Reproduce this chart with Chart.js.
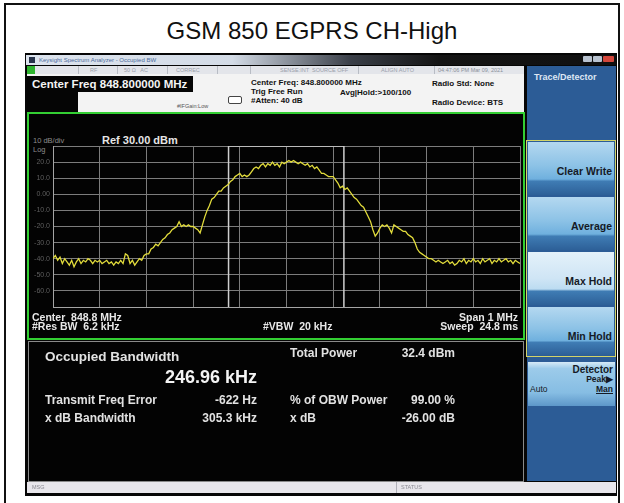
<!DOCTYPE html>
<html><head><meta charset="utf-8">
<script src="https://cdn.jsdelivr.net/npm/chart.js@4"></script>
<style>
body{margin:0;width:624px;height:503px;background:#fff;position:relative;overflow:hidden;font-family:"Liberation Sans",Arial,sans-serif;}
.a{position:absolute;}
.t{position:absolute;white-space:nowrap;line-height:1;}
.b{font-weight:bold;}
.btn{position:absolute;left:528px;width:86px;height:53px;background:linear-gradient(to bottom,#b4d8f0 0%,#8cc2e6 45%,#6fb0de 70%,#3f7cb4 74%,#2d6098 100%);}
.btn.sel{background:linear-gradient(to bottom,#e4f1fa 0%,#cfe5f5 50%,#bcdcf1 70%,#3f7cb4 74%,#2d6098 100%);}
.btn span{position:absolute;right:2px;top:24px;font-weight:bold;font-size:10.5px;color:#151a26;line-height:1;white-space:nowrap;}
</style></head><body>
<!-- report table borders -->
<div class="a" style="left:4px;top:3px;width:616px;height:2px;background:#111"></div>
<div class="a" style="left:4px;top:3px;width:2px;height:500px;background:#111"></div>
<div class="a" style="left:618px;top:3px;width:2px;height:500px;background:#111"></div>
<div class="t" style="left:0;width:624px;text-align:center;top:19px;font-size:24px;color:#111">GSM 850 EGPRS CH-High</div>

<!-- analyzer screenshot frame -->
<div class="a" style="left:25px;top:53px;width:592px;height:443px;background:#060606"></div>
<!-- window title bar -->
<div class="a" style="left:26px;top:55px;width:590px;height:10px;background:linear-gradient(to right,#dde4ee 0%,#d3dbe6 35%,#3a3f48 55%,#141414 70%,#101010 100%)"></div>
<div class="a" style="left:29px;top:57px;width:6px;height:6px;background:#27334a"></div>
<div class="t" style="left:39px;top:57px;font-size:6px;color:#4d6d9c">Keysight Spectrum Analyzer - Occupied BW</div>
<div class="a" style="left:583px;top:56px;width:9px;height:6px;background:#b9c3d0;border-radius:1px"></div>
<div class="a" style="left:593px;top:56px;width:9px;height:6px;background:#b9c3d0;border-radius:1px"></div>
<div class="a" style="left:603px;top:56px;width:11px;height:6px;background:#d4473c;border-radius:1px"></div>
<!-- status strip -->
<div class="a" style="left:27px;top:66px;width:497px;height:8px;background:#e3e5ea"></div>
<div class="a" style="left:27px;top:66px;width:8px;height:8px;background:#2fb52f"></div>
<div class="a" style="left:78px;top:66px;width:1px;height:8px;background:#b8bcc4"></div>
<div class="a" style="left:117px;top:66px;width:1px;height:8px;background:#b8bcc4"></div>
<div class="a" style="left:167px;top:66px;width:1px;height:8px;background:#b8bcc4"></div>
<div class="a" style="left:217px;top:66px;width:1px;height:8px;background:#b8bcc4"></div>
<div class="a" style="left:250px;top:66px;width:1px;height:8px;background:#b8bcc4"></div>
<div class="a" style="left:358px;top:66px;width:1px;height:8px;background:#b8bcc4"></div>
<div class="a" style="left:434px;top:66px;width:1px;height:8px;background:#b8bcc4"></div>
<div class="t" style="left:90px;top:67.5px;font-size:5.5px;color:#9aa0aa">RF</div>
<div class="t" style="left:124px;top:67.5px;font-size:5.5px;color:#9aa0aa">50 Ω&nbsp;&nbsp;&nbsp;AC</div>
<div class="t" style="left:176px;top:67.5px;font-size:5.5px;color:#9aa0aa">CORREC</div>
<div class="t" style="left:280px;top:67.5px;font-size:5.5px;color:#9aa0aa">SENSE:INT&nbsp; SOURCE OFF</div>
<div class="t" style="left:381px;top:67.5px;font-size:5.5px;color:#9aa0aa">ALIGN AUTO</div>
<div class="t" style="left:438px;top:67.5px;font-size:5.5px;color:#8a909a">04:47:06 PM Mar 09, 2021</div>
<!-- header -->
<div class="a" style="left:27px;top:74px;width:497px;height:38px;background:#f3f3f3"></div>
<div class="a" style="left:27px;top:76px;width:166px;height:16px;background:#050505"></div>
<div class="a" style="left:27px;top:92px;width:51px;height:20px;background:#050505"></div>
<div class="t b" style="left:32px;top:78.5px;font-size:11.5px;color:#f4f4f4">Center Freq 848.800000 MHz</div>
<div class="t" style="left:177px;top:104px;font-size:5.5px;color:#555">#IFGain:Low</div>
<div class="a" style="left:228px;top:96px;width:12px;height:6px;border:1px solid #444;border-radius:2px;background:#fff"></div>
<div class="t b" style="left:251px;top:79px;font-size:8px;color:#111">Center Freq: 848.800000 MHz</div>
<div class="t b" style="left:251px;top:88px;font-size:8px;color:#111">Trig Free Run</div>
<div class="t b" style="left:251px;top:97px;font-size:8px;color:#111">#Atten: 40 dB</div>
<div class="t b" style="left:340px;top:89px;font-size:8px;color:#111">Avg|Hold:&gt;100/100</div>
<div class="t b" style="left:432px;top:80px;font-size:8px;color:#111">Radio Std: None</div>
<div class="t b" style="left:432px;top:99px;font-size:8px;color:#111">Radio Device: BTS</div>

<!-- plot panel -->
<div class="a" style="left:27px;top:112px;width:494px;height:224px;border:2px solid #33cf33;background:#030303"></div>
<div class="t" style="left:33px;top:137px;font-size:7.5px;color:#8c8c8c">10 dB/div</div>
<div class="t b" style="left:102px;top:135px;font-size:11px;color:#e6e6e6">Ref 30.00 dBm</div>
<div class="t" style="left:33px;top:146px;font-size:7.5px;color:#8c8c8c">Log</div>
<canvas id="c" width="495" height="225" style="position:absolute;left:28px;top:114px"></canvas>
<div class="t b" style="left:32px;top:312px;font-size:10.5px;color:#e8e8e8">Center&nbsp; 848.8 MHz</div>
<div class="t b" style="left:32px;top:321px;font-size:10.5px;color:#e8e8e8">#Res BW&nbsp; 6.2 kHz</div>
<div class="t b" style="left:263px;top:321px;font-size:10.5px;color:#e8e8e8">#VBW&nbsp; 20 kHz</div>
<div class="t b" style="right:106px;top:312px;font-size:10.5px;color:#e8e8e8">Span 1 MHz</div>
<div class="t b" style="right:106px;top:321px;font-size:10.5px;color:#e8e8e8">Sweep&nbsp; 24.8 ms</div>

<!-- measurement panel -->
<div class="a" style="left:28px;top:341px;width:494px;height:139px;border:1px solid #8a8a8a;background:#030303"></div>
<div class="t b" style="left:45px;top:349.5px;font-size:13.5px;color:#e2e2e2">Occupied Bandwidth</div>
<div class="t b" style="right:367px;top:368px;font-size:18px;color:#f4f4f4">246.96 kHz</div>
<div class="t b" style="left:290px;top:347px;font-size:12px;color:#e2e2e2">Total Power</div>
<div class="t b" style="right:169px;top:347px;font-size:12px;color:#e2e2e2">32.4 dBm</div>
<div class="t b" style="left:45px;top:394px;font-size:12px;color:#e2e2e2">Transmit Freq Error</div>
<div class="t b" style="right:367px;top:394px;font-size:12px;color:#e2e2e2">-622 Hz</div>
<div class="t b" style="left:290px;top:394px;font-size:12px;color:#e2e2e2">% of OBW Power</div>
<div class="t b" style="right:169px;top:394px;font-size:12px;color:#e2e2e2">99.00 %</div>
<div class="t b" style="left:45px;top:412px;font-size:12px;color:#e2e2e2">x dB Bandwidth</div>
<div class="t b" style="right:367px;top:412px;font-size:12px;color:#e2e2e2">305.3 kHz</div>
<div class="t b" style="left:290px;top:412px;font-size:12px;color:#e2e2e2">x dB</div>
<div class="t b" style="right:169px;top:412px;font-size:12px;color:#e2e2e2">-26.00 dB</div>

<!-- right soft-key panel -->
<div class="a" style="left:527px;top:66px;width:89px;height:415px;background:#2c5c96"></div>
<div class="t b" style="left:534px;top:73px;font-size:9px;color:#dde7f4">Trace/Detector</div>
<div class="a" style="left:526px;top:140px;width:88px;height:215px;border:1.5px solid #d2d46a"></div>
<div class="btn" style="top:142px"><span>Clear Write</span></div>
<div class="btn" style="top:197px"><span>Average</span></div>
<div class="btn sel" style="top:252px"><span>Max Hold</span></div>
<div class="btn" style="top:307px;height:48px"><span>Min Hold</span></div>
<div class="a" style="left:528px;top:362px;width:87px;height:44px;background:linear-gradient(to bottom,#d6eaf7 0%,#9ccbea 15%,#86bde3 70%,#5d97c9 100%)"></div>
<div class="t b" style="right:11px;top:365px;font-size:10px;color:#151a26">Detector</div>
<div class="t b" style="right:11px;top:375px;font-size:8.5px;color:#151a26">Peak&#9654;</div>
<div class="t" style="left:530px;top:385px;font-size:8.5px;color:#151a26">Auto</div>
<div class="t b" style="right:11px;top:385px;font-size:8.5px;color:#151a26;text-decoration:underline">Man</div>

<!-- bottom status bar -->
<div class="a" style="left:27px;top:482px;width:589px;height:11px;background:#e8e6eb"></div>
<div class="a" style="left:396px;top:482px;width:1px;height:11px;background:#b0b0b8"></div>
<div class="t" style="left:32px;top:485px;font-size:5.5px;color:#8a8a92">MSG</div>
<div class="t" style="left:401px;top:485px;font-size:5.5px;color:#8a8a92">STATUS</div>

<script>
// Frequency offset from centre (848.8 MHz), kHz
const freqKHz = [
-500,-495,-490,-485,-480,-475,-470,-465,-460,-455,-450,-445,-440,-435,-430,-425,-420,-415,-410,-405,
-400,-395,-390,-385,-380,-375,-370,-365,-360,-355,-350,-345,-340,-335,-330,-325,-320,-315,-310,-305,
-300,-295,-290,-285,-280,-275,-270,-265,-260,-255,-250,-245,-240,-235,-230,-225,-220,-215,-210,-205,
-200,-195,-190,-185,-180,-175,-170,-165,-160,-155,-150,-145,-140,-135,-130,-125,-120,-115,-110,-105,
-100,-95,-90,-85,-80,-75,-70,-65,-60,-55,-50,-45,-40,-35,-30,-25,-20,-15,-10,-5,
0,5,10,15,20,25,30,35,40,45,50,55,60,65,70,75,80,85,90,95,
100,105,110,115,120,125,130,135,140,145,150,155,160,165,170,175,180,185,190,195,
200,205,210,215,220,225,230,235,240,245,250,255,260,265,270,275,280,285,290,295,
300,305,310,315,320,325,330,335,340,345,350,355,360,365,370,375,380,385,390,395,
400,405,410,415,420,425,430,435,440,445,450,455,460,465,470,475,480,485,490,495,
500];
// Max-hold trace level, dBm
const traceDbm = [
-40,-38,-41,-39,-43,-40,-42,-44,-41,-45,-42,-40,-43,-41,-42,-40,-41,-43,-41,-42,
-41,-43,-42,-41,-43,-42,-44,-42,-43,-41,-43,-37,-38,-43,-41,-44,-42,-40,-41,-38,
-37,-37,-34,-33,-31,-32,-30,-28,-27,-25,-24,-22,-21,-20,-17,-20,-19,-20,-19,-20,
-20,-21,-22,-24,-19,-14,-10,-7,-3,-2,0,2,2,4,5,6,8,9,11,12,
13,11,12,11,12,14,16,17,16,18,19,17,19,18,20,18,19,17,20,19,
20,21,20,21,20,19,20,19,18,19,17,18,16,17,15,13,13,12,11,11,
11,9,7,4,5,3,4,2,0,-2,-3,-5,-7,-8,-11,-14,-17,-22,-26,-24,
-21,-19,-20,-19,-21,-24,-19,-20,-21,-22,-23,-23,-25,-26,-27,-30,-34,-36,-37,-38,
-39,-40,-40,-41,-42,-41,-42,-43,-42,-41,-43,-42,-44,-43,-41,-42,-40,-43,-41,-42,
-40,-42,-41,-43,-40,-42,-41,-40,-43,-41,-42,-40,-42,-41,-40,-42,-41,-43,-41,-42,
-43];
// Occupied-bandwidth marker edges, kHz offset
const obwEdgesKHz = [-124.1, 122.9];
const refLevelDbm = 30;
const bottomLevelDbm = -70;
const yTickValues = [20,10,0,-10,-20,-30,-40,-50,-60];
const yTickLabels = ['20.0','10.0','0.00','-10.0','-20.0','-30.0','-40.0','-50.0','-60.0'];

const tracePoints = freqKHz.map((f,i)=>({x:f,y:traceDbm[i]}));
const boxPoints = [
  {x:obwEdgesKHz[0],y:bottomLevelDbm},{x:obwEdgesKHz[0],y:refLevelDbm},
  {x:obwEdgesKHz[1],y:refLevelDbm},{x:obwEdgesKHz[1],y:bottomLevelDbm}];

new Chart(document.getElementById('c'),{
  type:'line',
  data:{datasets:[
    {data:tracePoints,borderColor:'#e2dc3c',borderWidth:1.3,pointRadius:0,tension:0,order:0},
    {data:boxPoints,borderColor:'#cfcfcf',borderWidth:1.5,pointRadius:0,tension:0,order:1}
  ]},
  options:{
    responsive:false,animation:false,devicePixelRatio:1,
    layout:{padding:{top:32,bottom:32,left:0,right:3}},
    plugins:{legend:{display:false},tooltip:{enabled:false}},
    scales:{
      x:{type:'linear',min:-500,max:500,
         ticks:{display:false,stepSize:100},
         grid:{color:'#7c7c7c',lineWidth:1,drawTicks:false},
         border:{display:true,color:'#a4a4a4'},
         afterFit:s=>{s.height=0;}},
      y:{min:bottomLevelDbm,max:refLevelDbm,
         ticks:{stepSize:10,color:'#5e5e5e',padding:3,font:{size:7,family:'Liberation Sans'},
                callback:v=>{const i=yTickValues.indexOf(v);return i<0?'':yTickLabels[i];}},
         grid:{color:'#7c7c7c',lineWidth:1,drawTicks:false},
         border:{display:true,color:'#a4a4a4'},
         afterFit:s=>{s.width=25;}}
    }
  }
});
</script>
</body></html>
